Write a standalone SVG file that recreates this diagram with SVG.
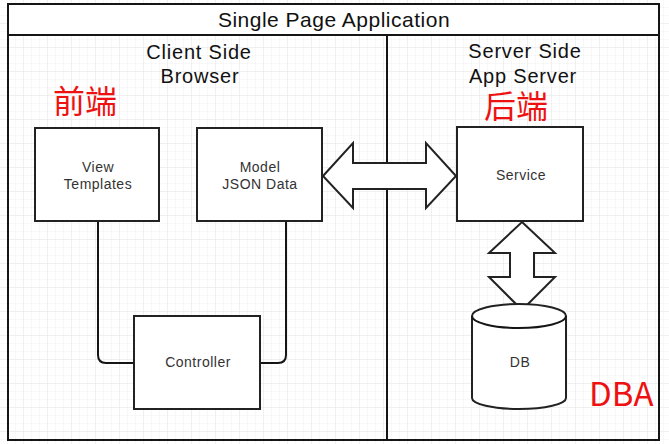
<svg xmlns="http://www.w3.org/2000/svg" width="669" height="444" viewBox="0 0 669 444">
  <defs>
    <pattern id="grid" width="8" height="8" patternUnits="userSpaceOnUse">
      <path d="M8,0 V8 M0,8 H8" fill="none" stroke="#f1f1f1" stroke-width="1"/>
    </pattern>
    <pattern id="grid2" width="24" height="24" patternUnits="userSpaceOnUse">
      <path d="M24,0 V24 M0,24 H24" fill="none" stroke="#e8e8e8" stroke-width="1"/>
    </pattern>
    <style>
      .frame { fill: none; stroke: #151515; stroke-width: 2; }
      .box { fill: #ffffff; stroke: #222222; stroke-width: 2; }
      .conn { fill: none; stroke: #151515; stroke-width: 2; }
      .arrow { fill: #ffffff; stroke: #222222; stroke-width: 2; stroke-linejoin: miter; }
      .lbl { font-family: "Liberation Sans", Arial, sans-serif; font-size: 14px; fill: #333333; text-anchor: middle; letter-spacing: 0.5px; }
      .hdr { font-family: "Liberation Sans", Arial, sans-serif; font-size: 20px; fill: #111111; text-anchor: middle; letter-spacing: 0.8px; }
      .red { font-family: "Noto Sans CJK SC", "Noto Sans", sans-serif; fill: #ee1111; }
    </style>
  </defs>
  <rect x="0" y="0" width="669" height="444" fill="#ffffff"/>
  <rect x="0" y="0" width="669" height="444" fill="url(#grid)"/>
  <rect x="0" y="0" width="669" height="444" fill="url(#grid2)"/>

  <g id="frame">
    <rect x="8" y="4" width="651" height="31" fill="#ffffff"/>
    <rect class="frame" x="8" y="4" width="651" height="436"/>
    <line class="frame" x1="8" y1="35" x2="659" y2="35"/>
    <line class="frame" x1="387" y1="35" x2="387" y2="440"/>
    <text class="hdr" x="334" y="27" style="font-size:21px;letter-spacing:0.5px">Single Page Application</text>
  </g>

  <g id="client-header">
    <text class="hdr" x="199" y="59">Client Side</text>
    <text class="hdr" x="200" y="83">Browser</text>
    <text class="red" x="85" y="113" font-size="32" text-anchor="middle">前端</text>
  </g>

  <g id="server-header">
    <text class="hdr" x="525" y="58">Server Side</text>
    <text class="hdr" x="523" y="83">App Server</text>
    <text class="red" x="516" y="118" font-size="32" text-anchor="middle">后端</text>
  </g>

  <g id="connectors">
    <path class="conn" d="M98,221 V355 Q98,363 106,363 H134"/>
    <path class="conn" d="M286,221 V355 Q286,363 278,363 H260"/>
    <polygon class="arrow" points="323,176 353,143 353,163 426,163 426,143 456,176 426,208 426,189 353,189 353,208"/>
    <polygon class="arrow" points="522,222 555,253 534,253 534,277 555,277 522,310 489,277 510,277 510,253 489,253"/>
  </g>

  <g id="view">
    <rect class="box" x="35" y="128" width="124" height="93"/>
    <text class="lbl" x="98" y="172">View</text>
    <text class="lbl" x="98" y="189">Templates</text>
  </g>

  <g id="model">
    <rect class="box" x="197" y="128" width="125" height="93"/>
    <text class="lbl" x="260" y="172">Model</text>
    <text class="lbl" x="260" y="189">JSON Data</text>
  </g>

  <g id="service">
    <rect class="box" x="457" y="127" width="126" height="94"/>
    <text class="lbl" x="521" y="180">Service</text>
  </g>

  <g id="controller">
    <rect class="box" x="134" y="316" width="126" height="93"/>
    <text class="lbl" x="198" y="367">Controller</text>
  </g>

  <g id="db">
    <path class="box" d="M472,316 A47,12 0 0,1 566,316 V398 A47,11 0 0,1 472,398 Z"/>
    <path class="conn" d="M472,316 A47,12 0 0,0 566,316"/>
    <text class="lbl" x="520" y="367">DB</text>
  </g>

  <g id="dba">
    <text class="red" x="589" y="406" font-size="33">DBA</text>
  </g>
</svg>
